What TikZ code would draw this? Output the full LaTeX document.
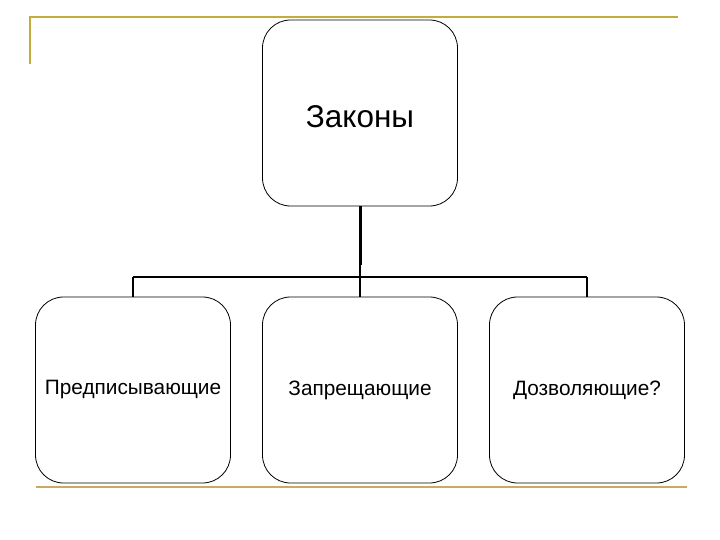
\documentclass[tikz,border=0pt]{standalone}
\usepackage{fontspec}
\setmainfont{Liberation Sans}
\begin{document}
\begin{tikzpicture}[x=1pt,y=-1pt,
  box/.style={draw=black,line width=0.8pt,rounded corners=28pt,minimum width=195pt,minimum height=186pt,inner sep=0pt},
  small/.style={font=\fontsize{20.8}{24}\selectfont},
  conn/.style={draw=black,line width=2pt},
  deco/.style={line width=2.5pt}]
\useasboundingbox (0,0) rectangle (720,540);
\definecolor{gold}{RGB}{196,172,60}
\definecolor{tan}{RGB}{200,170,100}
\draw[deco,gold] (30,64) -- (30,17) -- (678,17);
\draw[deco,tan] (36,487) -- (687,487);
\node[box,font=\fontsize{31.5}{36}\selectfont] (top) at (360,113) {};
\node[font=\fontsize{31.5}{36}\selectfont] at (360,117) {Законы};
\node[box,small] (a) at (133,390) {Предписывающие};
\node[box,small] (b) at (360,390) {Запрещающие};
\node[box,small] (c) at (587,390) {Дозволяющие?};
\coordinate (j) at (360,277);
\coordinate (ja) at (133,277);
\coordinate (jc) at (587,277);
\draw[line width=3pt] (top.south) -- (360,265);
\draw[conn] (360,265) -- (j);
\draw[conn] (ja) -- (jc);
\draw[conn] (ja) -- (a.north);
\draw[conn] (j) -- (b.north);
\draw[conn] (jc) -- (c.north);
\end{tikzpicture}
\end{document}
